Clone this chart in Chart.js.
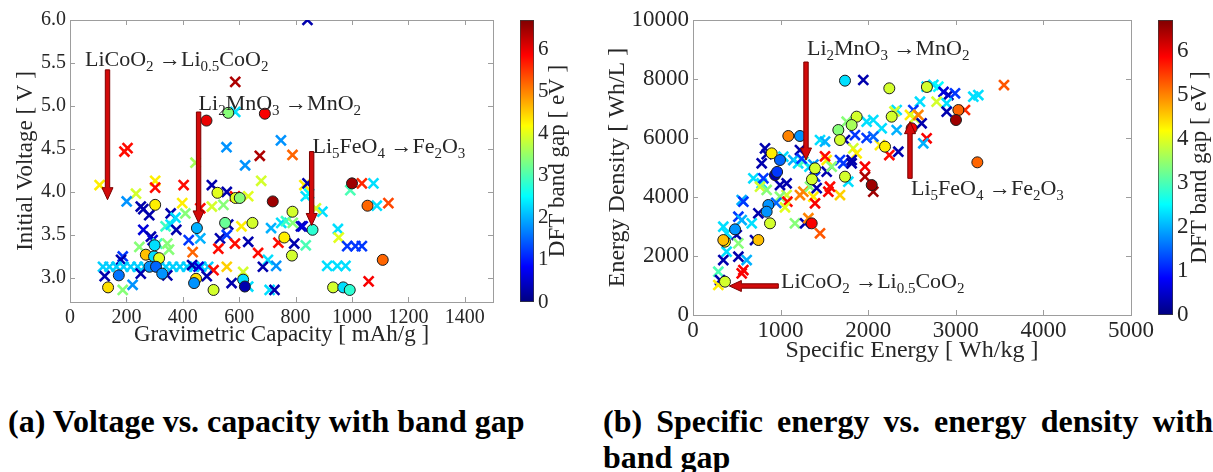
<!DOCTYPE html>
<html>
<head>
<meta charset="utf-8">
<script src="https://cdn.jsdelivr.net/npm/chart.js@4.4.1/dist/chart.umd.min.js"></script>
<style>
  body { margin: 0; background: #fff; width: 1213px; height: 472px; position: relative; overflow: hidden; }
  canvas { position: absolute; }
  .cap { position: absolute; font-family: "Liberation Serif", "Times New Roman", serif; font-weight: bold;
         font-size: 32px; line-height: 36px; color: #000; white-space: nowrap; }
  .just { text-align: justify; text-align-last: justify; width: 610px; }
</style>
</head>
<body>
<canvas id="volt" style="left:0;top:0" width="505" height="372"></canvas>
<canvas id="voltBar" style="left:505px;top:0" width="80" height="372"></canvas>
<canvas id="energy" style="left:600px;top:0" width="560" height="372"></canvas>
<canvas id="energyBar" style="left:1140px;top:0" width="73" height="372"></canvas>

<div class="cap" style="left:8px;top:403px">(a) Voltage vs. capacity with band gap</div>
<div class="cap just" style="left:603px;top:403px">(b) Specific energy vs. energy density with</div>
<div class="cap" style="left:603px;top:439px">band gap</div>

<script>
const SERIF = '"Liberation Serif", "DejaVu Serif", serif';
const INK = '#262626';
const GAP_MAX = 6.7;

// ticks
const capTicks = [0, 200, 400, 600, 800, 1000, 1200, 1400];
const voltTicks = [3.0, 3.5, 4.0, 4.5, 5.0, 5.5, 6.0];
const specTicks = [0, 1000, 2000, 3000, 4000, 5000];
const densTicks = [0, 2000, 4000, 6000, 8000, 10000];
const gapTicks = [0, 1, 2, 3, 4, 5, 6];

// (a) [capacity mAh/g, voltage V, band gap eV]
const voltCrosses = [
  [842, 6.0, 0.3], [586, 5.28, 6.4], [586, 4.93, 2.3], [555, 4.52, 1.8], [621, 4.31, 1.8],
  [673, 4.42, 6.4], [748, 4.60, 1.8], [789, 4.43, 5.2], [204, 4.51, 5.8], [193, 4.47, 5.8],
  [445, 4.34, 3.6], [105, 4.08, 4.3], [302, 4.13, 4.3], [302, 4.05, 5.8], [403, 4.08, 5.8],
  [503, 4.08, 0.3], [556, 4.00, 0.3], [632, 3.95, 4.0], [585, 3.95, 5.8], [678, 4.13, 3.9],
  [234, 3.98, 3.9], [201, 3.89, 1.8], [251, 3.83, 0.3], [281, 3.73, 0.3], [260, 3.80, 0.3],
  [357, 3.75, 0.3], [398, 3.87, 4.3], [409, 3.75, 3.4], [374, 3.70, 2.3], [462, 3.81, 5.8],
  [503, 3.83, 3.9], [544, 3.85, 3.4], [561, 3.62, 0.3], [608, 3.60, 4.3], [713, 3.58, 2.0],
  [749, 3.64, 2.3], [766, 3.66, 2.9], [739, 3.41, 5.8], [795, 3.40, 0.3], [819, 3.60, 0.3],
  [836, 3.95, 2.3], [339, 3.60, 2.9], [357, 3.62, 2.3], [377, 3.56, 0.3], [260, 3.56, 0.6],
  [287, 3.48, 0.3], [293, 3.44, 0.6], [246, 3.36, 3.4], [310, 3.40, 2.9], [345, 3.40, 3.4],
  [351, 3.33, 3.4], [187, 3.25, 1.2], [181, 3.21, 0.3],
  [117, 3.13, 2.2], [140, 3.13, 2.2], [165, 3.13, 2.2], [190, 3.13, 2.2], [215, 3.13, 2.2],
  [240, 3.13, 2.2], [265, 3.13, 2.2], [290, 3.13, 2.2], [315, 3.13, 2.2], [340, 3.13, 2.2],
  [365, 3.13, 2.2], [390, 3.13, 2.2], [415, 3.13, 2.2], [440, 3.13, 2.2], [465, 3.13, 2.2],
  [490, 3.13, 2.2],
  [345, 3.03, 0.3], [123, 3.02, 0.3], [222, 2.92, 1.8], [187, 2.86, 3.4], [251, 3.05, 0.3],
  [433, 3.15, 0.3], [456, 3.13, 0.6], [435, 3.30, 5.2], [421, 3.44, 1.2], [462, 3.46, 2.0],
  [532, 3.46, 0.3], [556, 3.50, 1.2], [526, 3.34, 5.8], [585, 3.40, 5.8], [632, 3.42, 0.3],
  [667, 3.29, 5.8], [702, 3.21, 2.3], [731, 3.14, 1.8], [684, 3.13, 0.3], [556, 3.13, 4.5],
  [509, 3.09, 5.8], [485, 3.02, 0.3], [573, 2.94, 0.3], [632, 2.90, 2.3], [614, 3.07, 3.9],
  [708, 2.86, 2.3], [725, 2.86, 0.3],
  [831, 4.08, 4.3], [842, 4.10, 0.3], [1035, 4.10, 5.6], [1076, 4.10, 2.3], [994, 4.02, 3.0],
  [1088, 3.84, 2.3], [1129, 3.87, 5.4], [848, 3.98, 2.5], [895, 3.77, 2.3], [872, 3.81, 3.9],
  [790, 3.64, 3.4], [825, 3.60, 0.6], [836, 3.38, 3.0], [950, 3.57, 2.3], [953, 3.47, 4.0],
  [983, 3.37, 1.2], [1012, 3.37, 1.2], [1035, 3.37, 1.2], [912, 3.14, 2.3], [948, 3.14, 2.3],
  [977, 3.14, 2.3], [1059, 2.96, 5.9]
];
const voltCircles = [
  [484, 4.83, 6.0], [561, 4.92, 3.4], [691, 4.91, 5.9], [523, 3.99, 4.0], [587, 3.93, 4.0],
  [602, 3.93, 3.4], [719, 3.89, 6.5], [789, 3.77, 3.9], [302, 3.85, 4.3], [550, 3.64, 3.2],
  [647, 3.64, 3.9], [760, 3.47, 4.3], [787, 3.26, 3.9], [269, 3.27, 4.6], [298, 3.25, 2.3],
  [316, 3.23, 4.0], [300, 3.38, 2.3], [282, 3.13, 1.8], [305, 3.13, 1.5], [327, 3.05, 1.8],
  [173, 3.03, 1.6], [135, 2.89, 4.4], [447, 2.99, 4.4], [440, 2.94, 1.8], [509, 2.86, 3.9],
  [614, 2.98, 2.3], [620, 2.90, 0.3], [1000, 4.10, 6.5], [1055, 3.84, 5.2], [860, 3.56, 2.8],
  [1109, 3.21, 5.2], [933, 2.89, 3.9], [969, 2.89, 2.3], [992, 2.86, 2.8], [450, 3.58, 2.0]
];
// arrows [xFrom, yFrom, xTo, yTo] and labels [x, y, text]
const voltArrows = [[133, 5.42, 133, 3.91], [456, 4.93, 456, 3.64], [857, 4.47, 857, 3.61]];
const voltLabels = [
  [53, 5.465, 'LiCoO_2 \u2192Li_{0.5}CoO_2'],
  [456, 4.95, 'Li_2MnO_3 \u2192MnO_2'],
  [860, 4.45, 'Li_5FeO_4 \u2192Fe_2O_3']
];

// (b) [specific energy Wh/kg, energy density Wh/L, band gap eV]
const energyCrosses = [
  [1944, 7966, 0.3], [3550, 7796, 5.3], [2667, 7740, 2.3], [2744, 7800, 2.3], [2801, 7740, 2.5],
  [2915, 7457, 0.3], [2991, 7514, 1.2], [2860, 7560, 0.6], [3200, 7400, 2.3], [3257, 7457, 2.3],
  [2781, 7232, 3.9], [2896, 7175, 2.3], [2896, 6892, 0.3], [3105, 6949, 5.6], [2591, 7232, 2.3],
  [2515, 6949, 1.2], [2477, 6780, 4.3], [2530, 6680, 3.9], [2572, 6780, 5.0], [2610, 6497, 0.3],
  [2667, 5989, 5.9], [2629, 5819, 2.0], [2325, 6949, 2.3], [2300, 6900, 3.9], [2154, 6328, 2.3],
  [2325, 6271, 2.0], [2134, 5762, 4.3], [2241, 5423, 5.8], [2344, 5536, 0.3], [1982, 6553, 2.3],
  [2058, 6610, 2.3], [1735, 5932, 0.3], [1849, 6101, 1.2], [1982, 6000, 1.2], [2058, 6050, 1.5],
  [1754, 6553, 3.4], [1830, 5649, 3.9], [1868, 5480, 4.3], [1716, 5141, 1.2], [1811, 5141, 0.3],
  [1773, 4520, 2.3], [1963, 5028, 5.9], [1963, 4689, 6.4], [2058, 4180, 6.5], [822, 5649, 0.3],
  [841, 5450, 0.3], [784, 5141, 0.3], [1031, 5367, 2.3], [1145, 5254, 2.0], [1200, 5141, 2.3],
  [1260, 5200, 3.0], [1330, 5028, 2.3], [1374, 5100, 1.8], [1221, 5593, 0.3], [1240, 5300, 1.2],
  [1393, 4689, 1.2], [1526, 4859, 0.3], [1450, 5932, 2.3], [1507, 5880, 2.0], [1526, 5254, 4.3],
  [1507, 5380, 5.8], [1678, 5254, 1.2], [1811, 5254, 0.3], [1583, 5028, 3.4], [1221, 4067, 5.0],
  [1260, 4180, 5.0], [1374, 4011, 4.3], [1393, 3785, 5.9], [1545, 4180, 5.9], [1678, 4067, 4.5],
  [1564, 4350, 5.8], [1336, 4350, 3.4], [1412, 4300, 0.3], [1069, 4067, 3.9], [993, 4011, 3.4],
  [1077, 3841, 5.8], [689, 4633, 2.3], [784, 4463, 2.3], [803, 4633, 1.2], [765, 4350, 3.9],
  [841, 4240, 3.4], [993, 4406, 0.3], [1069, 4463, 0.3], [556, 3898, 2.0], [575, 3841, 1.2],
  [746, 3446, 0.3], [518, 3333, 1.2], [556, 3220, 2.0], [670, 3107, 2.3], [1164, 3107, 3.4],
  [1279, 3107, 0.3], [1317, 3280, 5.0], [1450, 2768, 5.3], [346, 2994, 2.3], [384, 2768, 2.3],
  [499, 2712, 0.3], [384, 2147, 2.3], [518, 2429, 3.4], [708, 2542, 0.3], [613, 1864, 2.0],
  [518, 1977, 0.3], [346, 1864, 0.3], [575, 1525, 5.9], [556, 1410, 5.9], [289, 1469, 3.0],
  [308, 1186, 0.3], [289, 1017, 4.3], [950, 3800, 1.5], [1050, 3650, 4.0]
];
const energyCircles = [
  [1735, 7943, 2.3], [2241, 7684, 3.9], [2670, 7730, 3.9], [3029, 6949, 5.2], [3002, 6610, 6.5],
  [2268, 6723, 3.9], [2496, 6328, 5.9], [3246, 5175, 5.2], [2192, 5706, 4.3], [1868, 6723, 3.9],
  [1659, 6271, 3.4], [1811, 6440, 3.6], [1678, 5932, 3.9], [1735, 4689, 3.9], [2040, 4406, 6.5],
  [1088, 6068, 5.0], [1221, 6068, 1.8], [898, 5480, 4.3], [936, 4746, 0.3], [993, 5254, 1.5],
  [960, 4850, 1.2], [1393, 4972, 3.9], [1358, 4600, 3.9], [860, 3729, 1.8], [841, 3502, 1.8],
  [879, 3107, 3.9], [1355, 3107, 5.9], [480, 2904, 1.8], [365, 2486, 4.3], [346, 2540, 4.6],
  [746, 2542, 4.6], [365, 1130, 3.9]
];
const energyArrows = [[1290, 8576, 1290, 5254], [2477, 4632, 2477, 6554], [974, 983, 415, 983]];
const energyLabels = [
  [1301, 8814, 'Li_2MnO_3 \u2192MnO_2'],
  [2489, 4068, 'Li_5FeO_4 \u2192Fe_2O_3'],
  [1005, 915, 'LiCoO_2 \u2192Li_{0.5}CoO_2']
];

function jet(t) {
  const c = v => Math.round(255 * Math.max(0, Math.min(1, v)));
  return `rgb(${c(1.5 - Math.abs(4 * t - 3))},${c(1.5 - Math.abs(4 * t - 2))},${c(1.5 - Math.abs(4 * t - 1))})`;
}
const gapColor = g => jet(g / GAP_MAX);

function drawArrow(ctx, x1, y1, x2, y2) {
  const L = Math.hypot(x2 - x1, y2 - y1);
  const ux = (x2 - x1) / L, uy = (y2 - y1) / L, nx = -uy, ny = ux;
  const w = 2.2, hw = 5.5, hl = 12;
  const bx = x2 - ux * hl, by = y2 - uy * hl;
  ctx.save();
  ctx.beginPath();
  ctx.moveTo(x1 + nx * w, y1 + ny * w);
  ctx.lineTo(bx + nx * w, by + ny * w);
  ctx.lineTo(bx + nx * hw, by + ny * hw);
  ctx.lineTo(x2, y2);
  ctx.lineTo(bx - nx * hw, by - ny * hw);
  ctx.lineTo(bx - nx * w, by - ny * w);
  ctx.lineTo(x1 - nx * w, y1 - ny * w);
  ctx.closePath();
  ctx.fillStyle = '#d20a0a';
  ctx.fill();
  ctx.strokeStyle = '#7c0000';
  ctx.lineWidth = 1;
  ctx.stroke();
  ctx.restore();
}

// text with _x / _{xy} subscripts
function drawRich(ctx, text, x, y) {
  ctx.save();
  ctx.fillStyle = INK;
  ctx.textAlign = 'left';
  ctx.textBaseline = 'alphabetic';
  text.split(/(_\{[^}]*\}|_.)/).forEach(part => {
    if (!part) return;
    const sub = part[0] === '_';
    const s = sub ? part.replace(/^_\{?|\}$/g, '') : part;
    ctx.font = (sub ? 15 : 22) + 'px ' + SERIF;
    ctx.fillText(s, x, y + (sub ? 5 : 0));
    x += ctx.measureText(s).width;
  });
  ctx.restore();
}

const boxPlugin = {
  id: 'box',
  beforeDatasetsDraw(chart) {
    const { ctx, chartArea: a, scales } = chart;
    const len = 5;
    ctx.save();
    ctx.strokeStyle = '#9d9d9d';
    ctx.lineWidth = 1;
    ctx.strokeRect(Math.round(a.left) + 0.5, Math.round(a.top) + 0.5,
      Math.round(a.right - a.left), Math.round(a.bottom - a.top));
    ctx.beginPath();
    scales.x.ticks.forEach(t => {
      const p = Math.round(scales.x.getPixelForValue(t.value)) + 0.5;
      ctx.moveTo(p, a.bottom); ctx.lineTo(p, a.bottom - len);
      ctx.moveTo(p, a.top); ctx.lineTo(p, a.top + len);
    });
    scales.y.ticks.forEach(t => {
      const p = Math.round(scales.y.getPixelForValue(t.value)) + 0.5;
      ctx.moveTo(a.left, p); ctx.lineTo(a.left + len, p);
      ctx.moveTo(a.right, p); ctx.lineTo(a.right - len, p);
    });
    ctx.stroke();
    ctx.restore();
  }
};

const notesPlugin = {
  id: 'notes',
  afterDatasetsDraw(chart, args, opts) {
    const { ctx } = chart;
    const sx = chart.scales.x, sy = chart.scales.y;
    opts.arrows.forEach(a => drawArrow(ctx,
      sx.getPixelForValue(a[0]), sy.getPixelForValue(a[1]),
      sx.getPixelForValue(a[2]), sy.getPixelForValue(a[3])));
    opts.labels.forEach(l => drawRich(ctx, l[2], sx.getPixelForValue(l[0]), sy.getPixelForValue(l[1])));
  }
};

const cbTitlePlugin = {
  id: 'cbTitle',
  afterDraw(chart, args, opts) {
    const { ctx, chartArea: a } = chart;
    ctx.save();
    ctx.translate(opts.x, (a.top + a.bottom) / 2);
    ctx.rotate(-Math.PI / 2);
    ctx.fillStyle = INK;
    ctx.font = opts.size + 'px ' + SERIF;
    ctx.textAlign = 'center';
    ctx.textBaseline = 'middle';
    ctx.fillText('DFT band gap [ eV ]', 0, 0);
    ctx.restore();
  }
};

// keep the plot box where it is even if end labels stick out
const noOverhang = s => { s.paddingLeft = 0; s.paddingRight = 0; s.paddingTop = 0; s.paddingBottom = 0; };

function scatterChart(id, o) {
  const pts = arr => arr.map(p => ({ x: p[0], y: p[1] }));
  const tickFont = { family: SERIF, size: o.tickSize };
  const titleFont = { family: SERIF, size: o.titleSize };
  return new Chart(document.getElementById(id), {
    type: 'scatter',
    data: {
      datasets: [
        {
          data: pts(o.circles),
          pointStyle: 'circle',
          pointRadius: 5.5,
          pointBorderWidth: 1,
          pointBorderColor: '#1c1c1c',
          pointBackgroundColor: o.circles.map(p => gapColor(p[2])),
          clip: 0,
        },
        {
          data: pts(o.crosses),
          pointStyle: 'crossRot',
          pointRadius: 7,
          pointBorderWidth: 2.6,
          pointBorderColor: o.crosses.map(p => gapColor(p[2])),
          pointBackgroundColor: o.crosses.map(p => gapColor(p[2])),
          clip: 0,
        },
      ],
    },
    options: {
      responsive: false,
      animation: false,
      events: [],
      layout: { padding: { left: 0, top: 20, right: o.padRight, bottom: 0 } },
      plugins: {
        legend: { display: false },
        tooltip: { enabled: false },
        notes: { arrows: o.arrows, labels: o.labels },
      },
      scales: {
        x: {
          type: 'linear', min: o.xMin, max: o.xMax,
          afterFit: s => { s.height = o.xAxisH; noOverhang(s); },
          afterBuildTicks: s => { s.ticks = o.xTicks.map(v => ({ value: v })); },
          grid: { display: false, drawTicks: false },
          border: { display: false },
          ticks: { autoSkip: false, maxRotation: 0, padding: o.xPad, color: INK, font: tickFont,
                   callback: v => String(v) },
          title: { display: true, text: o.xTitle, color: INK, font: titleFont, padding: { top: 0, bottom: o.xTitlePad } },
        },
        y: {
          type: 'linear', min: o.yMin, max: o.yMax,
          afterFit: s => { s.width = o.yAxisW; noOverhang(s); },
          afterBuildTicks: s => { s.ticks = o.yTicks.map(v => ({ value: v })); },
          grid: { display: false, drawTicks: false },
          border: { display: false },
          ticks: { autoSkip: false, padding: 4, color: INK, font: tickFont, callback: o.yFmt },
          title: { display: true, text: o.yTitle, color: INK, font: titleFont, padding: { top: o.yTitlePad, bottom: 0 } },
        },
      },
    },
    plugins: [boxPlugin, notesPlugin],
  });
}

function colorBar(id, o) {
  return new Chart(document.getElementById(id), {
    type: 'bar',
    data: {
      labels: ['gap'],
      datasets: [{
        data: [GAP_MAX],
        barPercentage: 1,
        categoryPercentage: 1,
        borderWidth: 1,
        borderColor: '#3a3a3a',
        borderSkipped: false,
        backgroundColor: c => {
          const a = c.chart.chartArea;
          if (!a) return '#888';
          const g = c.chart.ctx.createLinearGradient(0, a.bottom, 0, a.top);
          for (let i = 0; i <= 64; i++) g.addColorStop(i / 64, jet(i / 64));
          return g;
        },
      }],
    },
    options: {
      responsive: false,
      animation: false,
      events: [],
      layout: { padding: { left: o.padLeft, top: 20, right: 0, bottom: o.padBottom } },
      plugins: { legend: { display: false }, tooltip: { enabled: false }, cbTitle: { x: o.titleX, size: o.titleSize } },
      scales: {
        x: { display: false },
        y: {
          position: 'right', min: 0, max: GAP_MAX,
          afterFit: s => { s.width = o.axisW; noOverhang(s); },
          afterBuildTicks: s => { s.ticks = gapTicks.map(v => ({ value: v })); },
          grid: { display: false, drawTicks: false },
          border: { display: false },
          ticks: { padding: 4, color: INK, font: { family: SERIF, size: o.tickSize } },
        },
      },
    },
    plugins: [cbTitlePlugin],
  });
}

scatterChart('volt', {
  circles: voltCircles, crosses: voltCrosses, arrows: voltArrows, labels: voltLabels,
  xMin: 0, xMax: 1500, xTicks: capTicks, yMin: 2.72, yMax: 6.0, yTicks: voltTicks,
  yFmt: v => v.toFixed(1), tickSize: 20, titleSize: 23,
  padRight: 12, xAxisH: 70, yAxisW: 70, xPad: 4, xTitlePad: 23, yTitlePad: 12,
  xTitle: 'Gravimetric Capacity [ mAh/g ]', yTitle: 'Initial Voltage [ V ]',
});
colorBar('voltBar', { padLeft: 15, padBottom: 70, axisW: 51, titleX: 53, titleSize: 23, tickSize: 21 });

scatterChart('energy', {
  circles: energyCircles, crosses: energyCrosses, arrows: energyArrows, labels: energyLabels,
  xMin: 0, xMax: 5000, xTicks: specTicks, yMin: 0, yMax: 10000, yTicks: densTicks,
  yFmt: v => String(v), tickSize: 23, titleSize: 24,
  padRight: 29, xAxisH: 57, yAxisW: 93, xPad: 2, xTitlePad: 7, yTitlePad: 3,
  xTitle: 'Specific Energy [ Wh/kg ]', yTitle: 'Energy Density [ Wh/L ]',
});
colorBar('energyBar', { padLeft: 18, padBottom: 57, axisW: 40, titleX: 60, titleSize: 23, tickSize: 23 });
</script>
</body>
</html>
